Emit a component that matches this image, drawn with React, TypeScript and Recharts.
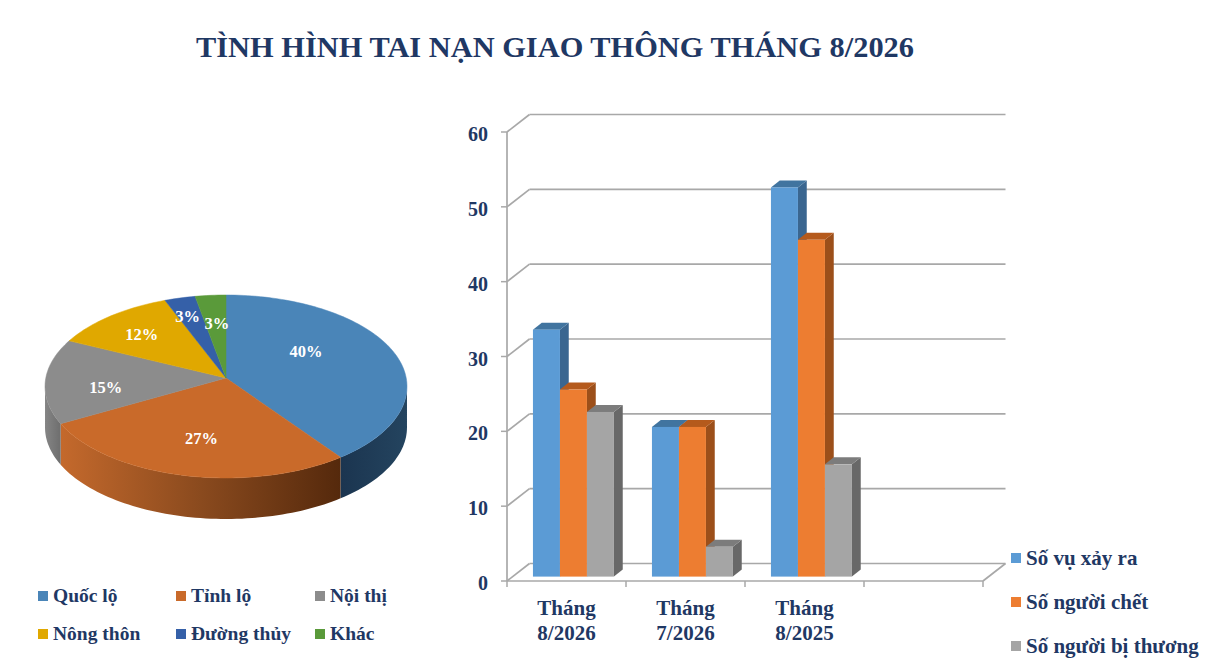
import React from "react";
import { BarChart, Bar, XAxis, YAxis, CartesianGrid, Legend, PieChart, Pie } from "recharts";

const TITLE = "TÌNH HÌNH TAI NẠN GIAO THÔNG THÁNG 8/2026";
const NAVY = "#1F3864";
const SERIF = "'Liberation Serif', serif";
const GRID = "#a8a8a8";

const months = ["Tháng 8/2026", "Tháng 7/2026", "Tháng 8/2025", " "];
const soVu = [33, 20, 52, null];
const soChet = [25, 20, 45, null];
const soThuong = [22, 4, 15, null];
const yTicks = [0, 10, 20, 30, 40, 50, 60];
const barRows = months.map((m, i) => ({ m, soVu: soVu[i], soChet: soChet[i], soThuong: soThuong[i] }));

const roadNames = ["Quốc lộ", "Tỉnh lộ", "Nội thị", "Nông thôn", "Đường thủy", "Khác"];
const roadShares = [40, 27, 15, 12, 3, 3];
const roadColors = ["#4A85B8", "#C96A2A", "#8C8C8C", "#E0A800", "#3560A8", "#5A9A3A"];
const wallFills = ["url(#wallBlue)", "url(#wallOrange)", "url(#wallGray)", "none", "none", "none"];
const labelNudges = [[-30, -9], [4, -4], [-1, 8], [-8, -3], [-8, -9], [1, 0]];
const pieRows = roadNames.map((name, i) => ({ name, value: roadShares[i], fill: roadColors[i] }));

// Perspective projection of the pie's circle onto the picture
const PERSP = 0.0929, SX = 1.802, SY = 0.907, WALL = 41;
const project = (cx: number, cy: number, R: number, deg: number) => {
  const a = (deg * Math.PI) / 180;
  const x = Math.cos(a), y = -Math.sin(a), d = 1 - PERSP * y;
  return [cx + (SX * R * x) / d, cy + (SY * R * y) / d];
};
const arcPts = (cx: number, cy: number, R: number, from: number, to: number) => {
  const n = Math.max(2, Math.ceil(Math.abs(to - from) / 1.5));
  const out: number[][] = [];
  for (let i = 0; i <= n; i++) out.push(project(cx, cy, R, from + ((to - from) * i) / n));
  return out;
};
const toPath = (pts: number[][]) => pts.map((p, i) => `${i ? "L" : "M"}${p[0].toFixed(2)},${p[1].toFixed(2)}`).join(" ");

const PieSlice = (p: any) => {
  const { cx, cy, outerRadius: R, startAngle, endAngle, fill, index } = p;
  const top = toPath([[cx, cy], ...arcPts(cx, cy, R, startAngle, endAngle)]) + " Z";
  const lo = Math.max(90 - startAngle, 95.3);
  const hi = Math.min(90 - endAngle, 264.7);
  let wall = null;
  if (lo < hi) {
    const rim = arcPts(cx, cy, R, 90 - lo, 90 - hi);
    const low = rim.map((q) => [q[0], q[1] + WALL]).reverse();
    wall = <path d={toPath([...rim, ...low]) + " Z"} fill={wallFills[index ?? roadColors.indexOf(fill)]} />;
  }
  return (
    <g>
      {wall}
      <path d={top} fill={fill} stroke={fill} strokeWidth={0.5} />
    </g>
  );
};

const PieLabel = (p: any) => {
  const { cx, cy, outerRadius: R, midAngle, percent, index } = p;
  const [x, y] = project(cx, cy, R * 0.66, midAngle);
  const n = labelNudges[index];
  return (
    <text x={x + n[0]} y={y + n[1]} fill="#fff" textAnchor="middle" dominantBaseline="central"
      fontFamily={SERIF} fontWeight="bold" fontSize={16.5}>
      {Math.round(percent * 100)}%
    </text>
  );
};

const PieLegend = ({ payload }: any) => (
  <div style={{ position: "relative" }}>
    {(payload || []).map((e: any, i: number) => {
      const left = [38, 176, 315][i % 3];
      const top = [596, 634][Math.floor(i / 3)];
      return (
        <div key={i} style={{ position: "absolute", left, top: top - 12, height: 24, display: "flex", alignItems: "center", whiteSpace: "nowrap" }}>
          <span style={{ width: 10, height: 10, background: e.payload?.fill ?? e.color, marginRight: 5, flex: "none" }} />
          <span style={{ fontFamily: SERIF, fontWeight: "bold", fontSize: 19.5, color: NAVY }}>{e.value}</span>
        </div>
      );
    })}
  </div>
);

const BarLegend = ({ payload }: any) => (
  <div style={{ position: "relative" }}>
    {(payload || []).map((e: any, i: number) => (
      <div key={i} style={{ position: "absolute", left: 1011, top: 558 + i * 44 - 13, height: 26, display: "flex", alignItems: "center", whiteSpace: "nowrap" }}>
        <span style={{ width: 10, height: 10, background: e.color, marginRight: 5, flex: "none" }} />
        <span style={{ fontFamily: SERIF, fontWeight: "bold", fontSize: 21, color: NAVY }}>{e.value}</span>
      </div>
    ))}
  </div>
);

const SHIFT_X = 6.2, SHIFT_Y = 4.4, DEPTH_X = 8.8, DEPTH_Y = 7;
const bar3D = (side: string, topFace: string) => (p: any) => {
  const { x, y, width, height, fill } = p;
  if (!height || height <= 0) return <g />;
  const l = x + SHIFT_X, r = l + width, t = y - SHIFT_Y, b = t + height;
  return (
    <g>
      <polygon points={`${r},${t} ${r + DEPTH_X},${t - DEPTH_Y} ${r + DEPTH_X},${b - DEPTH_Y} ${r},${b}`} fill={side} />
      <polygon points={`${l},${t} ${l + DEPTH_X},${t - DEPTH_Y} ${r + DEPTH_X},${t - DEPTH_Y} ${r},${t}`} fill={topFace} />
      <rect x={l} y={t} width={width} height={height} fill={fill} />
    </g>
  );
};

const BACK_X = 22.5, BACK_Y = 17.5;
const GridLine = (p: any) => {
  const { x1, y1, x2, y2 } = p;
  const isFloor = Math.abs(y1 - 581) < 1;
  return (
    <g stroke={GRID} strokeWidth={1.7} fill="none">
      <line x1={x1} y1={y1} x2={x1 + BACK_X} y2={y1 - BACK_Y} />
      <line x1={x1 + BACK_X} y1={y1 - BACK_Y} x2={x2 + BACK_X} y2={y2 - BACK_Y} />
      {isFloor ? <line x1={x2} y1={y2} x2={x2 + BACK_X} y2={y2 - BACK_Y} /> : null}
    </g>
  );
};

const MonthTick = (p: any) => {
  const { x, y, payload, index } = p;
  const words = String(payload.value).trim().split(" ");
  const half = 59.5;
  return (
    <g>
      <line x1={x - half} y1={y} x2={x - half} y2={y + 6} stroke={GRID} strokeWidth={1.5} />
      {index === months.length - 1 ? <line x1={x + half} y1={y} x2={x + half} y2={y + 6} stroke={GRID} strokeWidth={1.5} /> : null}
      <text x={x} fill={NAVY} textAnchor="middle" fontFamily={SERIF} fontWeight="bold" fontSize={21}>
        <tspan x={x} y={y + 34}>{words[0]}</tspan>
        {words[1] ? <tspan x={x} y={y + 59}>{words[1]}</tspan> : null}
      </text>
    </g>
  );
};

export default function App() {
  return (
    <div style={{ position: "absolute", left: 0, top: 0, width: 1210, height: 671, background: "#fff", overflow: "hidden" }}>
      <div style={{ position: "absolute", left: 0, width: 1110, top: 27, textAlign: "center", fontFamily: SERIF, fontWeight: "bold", fontSize: 30.4, lineHeight: "40px", color: NAVY, whiteSpace: "nowrap" }}>
        {TITLE}
      </div>

      <div style={{ position: "absolute", left: 0, top: 0 }}>
        <BarChart width={1210} height={671} data={barRows} margin={{ left: 457, right: 227, top: 132, bottom: 0 }}
          barGap={0} barCategoryGap={19.75}>
          <CartesianGrid vertical={false} horizontal={(h: any) => <GridLine key={h.key} {...h} />} />
          <XAxis dataKey="m" height={90} interval={0} tickSize={0} tickMargin={0} tickLine={false} axisLine={{ stroke: GRID, strokeWidth: 1.7 }} tick={MonthTick} />
          <YAxis width={50} domain={[0, 60]} ticks={yTicks} interval={0} tickSize={6} tickMargin={13}
            axisLine={{ stroke: GRID, strokeWidth: 1.7 }} tickLine={{ stroke: GRID, strokeWidth: 1.5 }}
            tick={{ fill: NAVY, fontFamily: SERIF, fontWeight: "bold", fontSize: 20, dy: 2 }} />
          <Bar dataKey="soVu" name="Số vụ xảy ra" fill="#5B9BD5" isAnimationActive={false} shape={bar3D("#3A6690", "#41749F")} />
          <Bar dataKey="soChet" name="Số người chết" fill="#ED7D31" isAnimationActive={false} shape={bar3D("#9C4F1A", "#B55A1C")} />
          <Bar dataKey="soThuong" name="Số người bị thương" fill="#A5A5A5" isAnimationActive={false} shape={bar3D("#686868", "#7C7C7C")} />
          <Legend itemSorter={null} content={BarLegend} wrapperStyle={{ position: "absolute", left: 0, top: 0, width: 0, height: 0, bottom: "auto", margin: 0 }} />
        </BarChart>
      </div>

      <div style={{ position: "absolute", left: 0, top: 0 }}>
        <PieChart width={480} height={671} margin={{ left: 0, right: 0, top: 0, bottom: 0 }}>
          <defs>
            <linearGradient id="wallBlue" x1="0" y1="0" x2="1" y2="0">
              <stop offset="0%" stopColor="#1B3550" />
              <stop offset="100%" stopColor="#24445F" />
            </linearGradient>
            <linearGradient id="wallOrange" x1="0" y1="0" x2="1" y2="0">
              <stop offset="0%" stopColor="#C4692C" />
              <stop offset="50%" stopColor="#8A4A1E" />
              <stop offset="100%" stopColor="#55290C" />
            </linearGradient>
            <linearGradient id="wallGray" x1="0" y1="0" x2="1" y2="0">
              <stop offset="0%" stopColor="#858585" />
              <stop offset="100%" stopColor="#6E6E6E" />
            </linearGradient>
          </defs>
          <Pie data={pieRows} dataKey="value" nameKey="name" cx={226} cy={378} outerRadius={100}
            startAngle={90} endAngle={-270} paddingAngle={0} stroke="none" isAnimationActive={false}
            shape={PieSlice} label={PieLabel} labelLine={false} />
          <Legend itemSorter={null} content={PieLegend} wrapperStyle={{ position: "absolute", left: 0, top: 0, width: 0, height: 0, bottom: "auto", margin: 0 }} />
        </PieChart>
      </div>
    </div>
  );
}
